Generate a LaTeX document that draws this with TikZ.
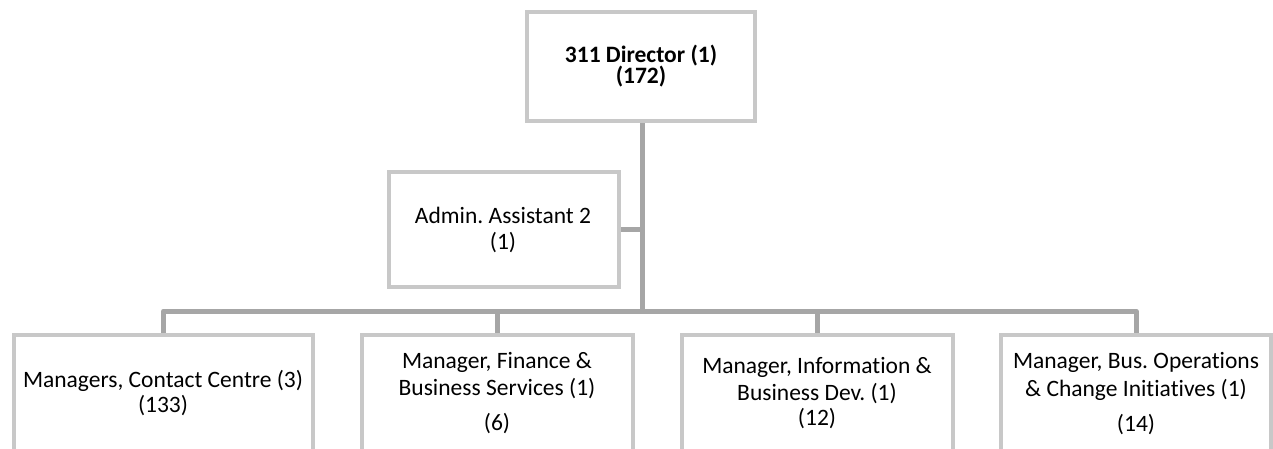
\documentclass[tikz,border=0pt]{standalone}
\usepackage{fontspec}
\setmainfont{Carlito}[RawFeature={-liga;-dlig;-clig}]
\usetikzlibrary{backgrounds}
\definecolor{boxgray}{RGB}{200,200,200}
\definecolor{linegray}{RGB}{166,166,166}
\frenchspacing
\begin{document}
\begin{tikzpicture}[x=1pt,y=-1pt,
  box/.style={draw=boxgray, line width=4pt, rectangle, inner sep=0pt},
  conn/.style={draw=linegray, line width=5pt, line join=round},
  txt/.style={anchor=base, inner sep=0pt, font=\fontsize{23.5}{26}\selectfont},
  btxt/.style={txt, font=\fontsize{23.5}{26}\selectfont\bfseries}]
\path[use as bounding box] (0,0) rectangle (1273,448);
\clip (0,0) rectangle (1273,448);
% boxes
\node[box, minimum width=228pt, minimum height=109pt] (dir) at (641,66.5) {};
\node[box, minimum width=230pt, minimum height=115pt] (adm) at (504,229.5) {};
\node[box, minimum width=299pt, minimum height=140pt] (b1) at (163.5,405) {};
\node[box, minimum width=271pt, minimum height=140pt] (b2) at (497.5,405) {};
\node[box, minimum width=271pt, minimum height=140pt] (b3) at (817.5,405) {};
\node[box, minimum width=270pt, minimum height=140pt] (b4) at (1136,405) {};
\coordinate (bus) at (642,311);
% connectors
\begin{pgfonlayer}{background}
\draw[conn] (b1.north) -- (b1.north |- bus) -- (b4.north |- bus) -- (b4.north);
\draw[conn] (b2.north |- bus) -- (b2.north);
\draw[conn] (b3.north |- bus) -- (b3.north);
\draw[conn] (dir.south -| bus) -- (bus);
\draw[conn] (adm.east) -- (adm.east -| bus);
\end{pgfonlayer}
% texts
\node[btxt] (d1) at (641,62) {311 Director (1)};
\node[btxt] (d2) at (641,83.5) {(172)};
\node[txt] (a1) at (503,223) {Admin. Assistant 2};
\node[txt] (a2) at (503,249) {(1)};
\node[txt] (m1a) at (163,387) {Managers, Contact Centre (3)};
\node[txt] (m1b) at (163,412) {(133)};
\node[txt] (m2a) at (497,368) {Manager, Finance \&};
\node[txt] (m2b) at (497,395) {Business Services (1)};
\node[txt] (m2c) at (497,430) {(6)};
\node[txt] (m3a) at (817,373) {Manager, Information \&};
\node[txt] (m3b) at (817,400) {Business Dev. (1)};
\node[txt] (m3c) at (817,425) {(12)};
\node[txt] (m4a) at (1136,368) {Manager, Bus. Operations};
\node[txt] (m4b) at (1136,396) {\& Change Initiatives (1)};
\node[txt] (m4c) at (1136,431) {(14)};
\end{tikzpicture}
\end{document}
